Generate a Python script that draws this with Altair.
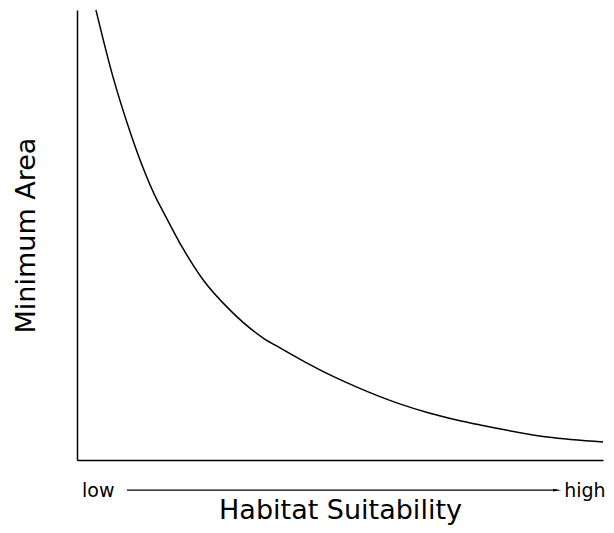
import altair as alt
import pandas as pd

# Curve (x: habitat suitability 0-100, y: minimum area 0-100)
curve_x = [3.6, 6.8, 10.1, 12.5, 15.2, 16.2, 20.0, 24.0, 29.1, 35.4, 38.6, 43.3, 48.1, 53.2, 60.8, 67.1, 72.2, 76.6, 89.4, 100.0]
curve_y = [100.0, 85.3, 72.9, 65.1, 57.8, 55.6, 47.3, 40.0, 33.3, 27.1, 24.9, 21.8, 18.9, 16.2, 12.7, 10.4, 8.9, 7.8, 5.1, 4.0]

# Annotation below the x axis: "low ---> high"
label_text = ["low", "high"]
label_x = [0.95, 100.5]
label_y = -8.2
arrow_x = [9.5, 91.3]
arrow_y = -6.7

FONT = "DejaVu Sans"

curve_df = pd.DataFrame({"x": curve_x, "y": curve_y})
xs = alt.Scale(domain=[0, 100], nice=False, zero=False)
ys = alt.Scale(domain=[0, 100], nice=False, zero=False)

x_axis = alt.Axis(labels=False, ticks=False, grid=False, domain=True, domainColor="black",
                  domainWidth=1.5, title="Habitat Suitability", titleFont=FONT, titleFontSize=27,
                  titleFontWeight="normal", titleColor="black", titlePadding=37)
y_axis = alt.Axis(labels=False, ticks=False, grid=False, domain=True, domainColor="black",
                  domainWidth=1.5, title="Minimum Area", titleFont=FONT, titleFontSize=27,
                  titleFontWeight="normal", titleColor="black", titlePadding=37)

line = alt.Chart(curve_df).mark_line(color="black", strokeWidth=1.5, interpolate="monotone").encode(
    x=alt.X("x:Q", scale=xs, axis=x_axis),
    y=alt.Y("y:Q", scale=ys, axis=y_axis),
)

lab_df = pd.DataFrame({"t": label_text, "x": label_x, "y": [label_y, label_y]})
low = alt.Chart(lab_df.iloc[[0]]).mark_text(align="left", baseline="alphabetic", font=FONT,
                                            fontSize=19, color="black").encode(
    x=alt.X("x:Q", scale=xs), y=alt.Y("y:Q", scale=ys), text="t:N")
high = alt.Chart(lab_df.iloc[[1]]).mark_text(align="right", baseline="alphabetic", font=FONT,
                                             fontSize=19, color="black").encode(
    x=alt.X("x:Q", scale=xs), y=alt.Y("y:Q", scale=ys), text="t:N")

arrow_df = pd.DataFrame({"x": [arrow_x[0]], "x2": [arrow_x[1]], "y": [arrow_y]})
rule = alt.Chart(arrow_df).mark_rule(color="black", strokeWidth=1.2).encode(
    x=alt.X("x:Q", scale=xs), x2="x2:Q", y=alt.Y("y:Q", scale=ys))
head_df = pd.DataFrame({"x": [arrow_x[1]], "y": [arrow_y]})
head = alt.Chart(head_df).mark_point(shape="M-1,-0.35L1,0L-1,0.35Z", filled=True, color="black",
                                     size=70, opacity=1).encode(
    x=alt.X("x:Q", scale=xs), y=alt.Y("y:Q", scale=ys))

chart = alt.layer(line, rule, head, low, high).properties(
    width=526, height=450,
    autosize=alt.AutoSizeParams(type="none"),
    padding={"left": 69, "top": 2, "right": 3, "bottom": 65},
).configure_view(stroke=None)

chart.save("out.html", embed_options={"renderer": "svg", "actions": False})
